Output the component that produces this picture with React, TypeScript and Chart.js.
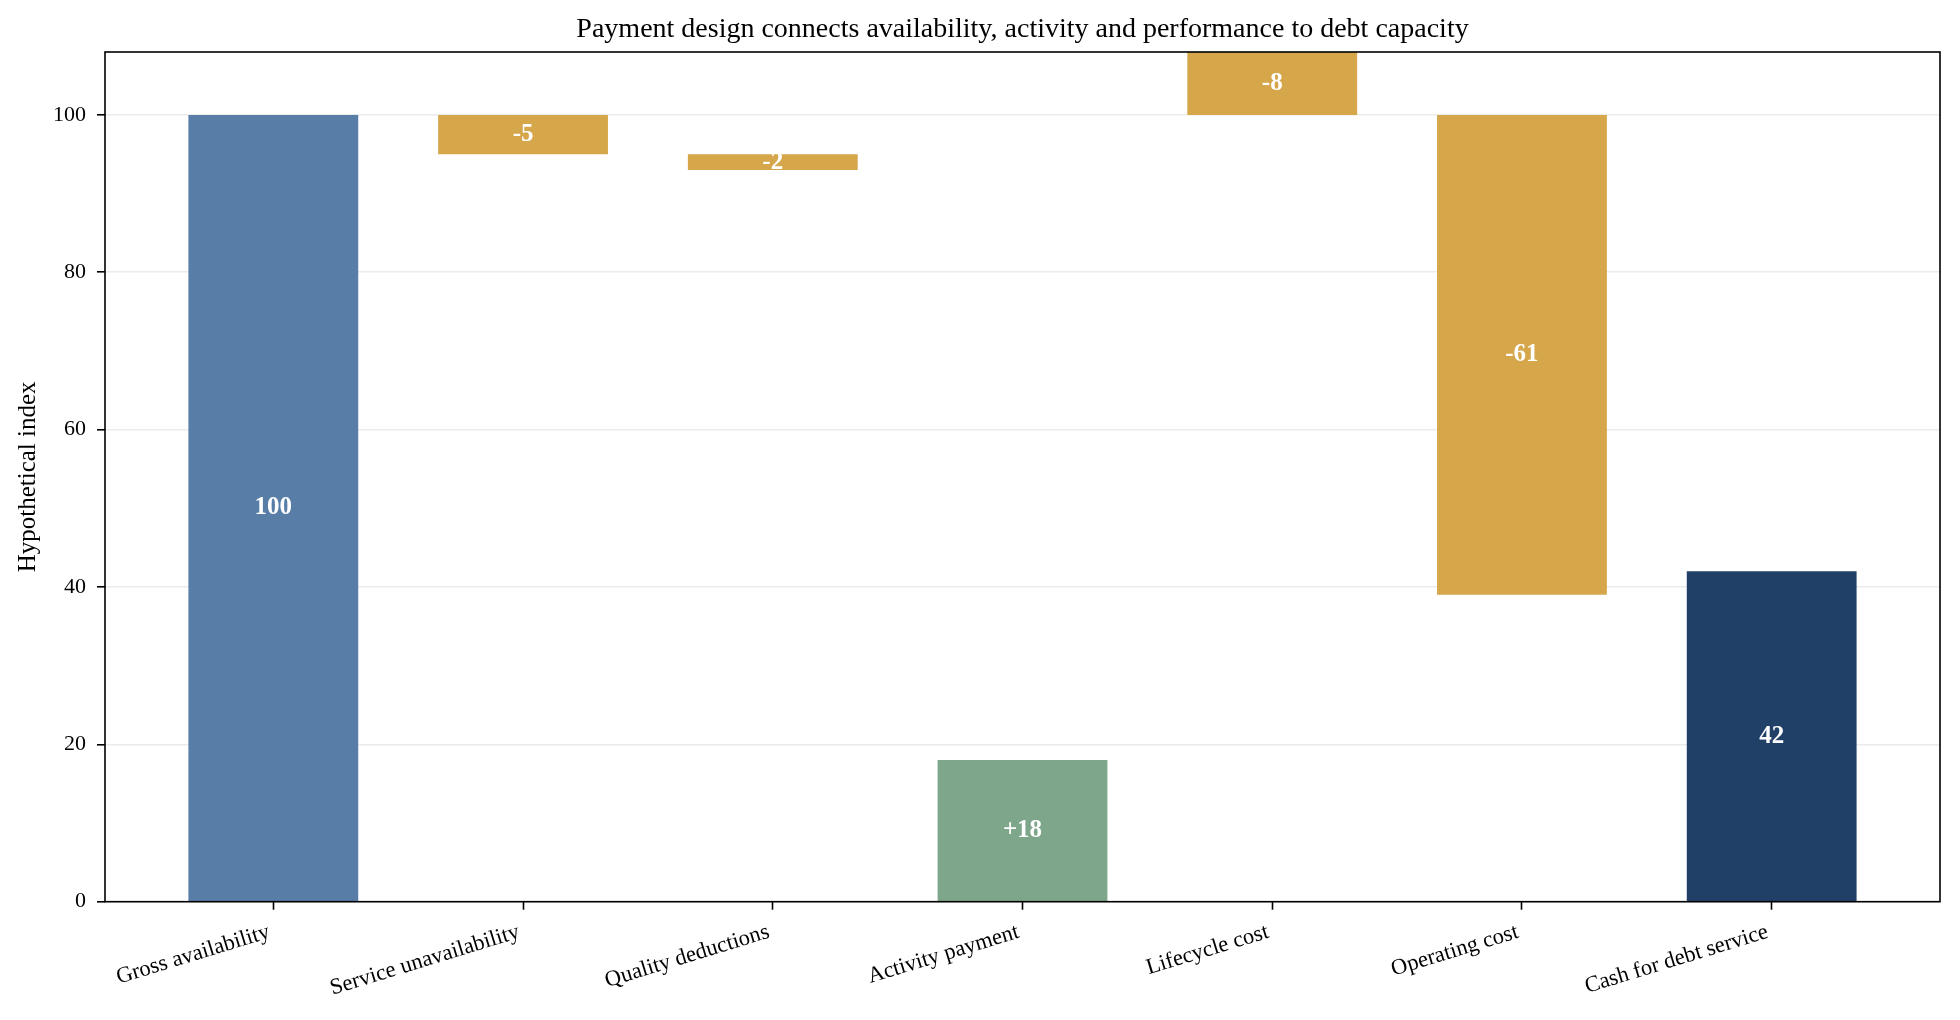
import React, { useEffect, useRef } from "react";
import { Chart, registerables } from "chart.js";

Chart.register(...registerables);

const FONT = '"Liberation Serif", "Times New Roman", serif';

const chartTitle = "Payment design connects availability, activity and performance to debt capacity";
const yAxisTitle = "Hypothetical index";

const categories = [
  "Gross availability",
  "Service unavailability",
  "Quality deductions",
  "Activity payment",
  "Lifecycle cost",
  "Operating cost",
  "Cash for debt service",
];
const barBases = [0, 95, 93, 0, 100, 39, 0];
const barTops = [100, 100, 95, 18, 108, 100, 42];
const barLabels = ["100", "-5", "-2", "+18", "-8", "-61", "42"];
const barColors = ["#587EA8", "#D6A64A", "#D6A64A", "#7EA68A", "#D6A64A", "#D6A64A", "#214068"];

const overlayPlugin = {
  id: "overlay",
  afterDraw(chart: any) {
    const ctx = chart.ctx as CanvasRenderingContext2D;
    const a = chart.chartArea;
    ctx.save();
    // value labels
    const meta = chart.getDatasetMeta(0);
    ctx.fillStyle = "#ffffff";
    ctx.font = `bold 25px ${FONT}`;
    ctx.textAlign = "center";
    ctx.textBaseline = "middle";
    meta.data.forEach((el: any, i: number) => {
      const p = el.getProps(["x", "y", "base"], true);
      ctx.fillText(barLabels[i], p.x, (p.y + p.base) / 2);
    });
    // frame
    ctx.strokeStyle = "#000000";
    ctx.lineWidth = 1.6;
    ctx.strokeRect(a.left, a.top, a.right - a.left, a.bottom - a.top);
    // title
    ctx.fillStyle = "#000000";
    ctx.font = `28px ${FONT}`;
    ctx.textAlign = "center";
    ctx.textBaseline = "alphabetic";
    ctx.fillText(chartTitle, (a.left + a.right) / 2, 37);
    ctx.restore();
  },
};

export default function App() {
  const ref = useRef<HTMLCanvasElement | null>(null);

  useEffect(() => {
    document.body.style.margin = "0";
    if (!ref.current) return;
    const data = categories.map((_, i) => ({ x: i, y: [barBases[i], barTops[i]] }));
    const chart = new Chart(ref.current, {
      type: "bar",
      data: {
        datasets: [
          {
            data: data as any,
            backgroundColor: barColors,
            borderWidth: 0,
            categoryPercentage: 1,
            barPercentage: 0.68,
          },
        ],
      },
      options: {
        animation: false,
        responsive: false,
        devicePixelRatio: 1,
        layout: { padding: { top: 52, right: 20, left: 0, bottom: 0 } },
        plugins: {
          legend: { display: false },
          tooltip: { enabled: false },
          title: { display: false },
        },
        scales: {
          x: {
            type: "linear",
            min: -0.674,
            max: 6.674,
            offset: false,
            border: { display: false },
            grid: {
              offset: false,
              drawOnChartArea: false,
              drawTicks: true,
              tickLength: 8,
              tickColor: "#000000",
              tickWidth: 1.6,
            },
            ticks: {
              stepSize: 1,
              includeBounds: false,
              autoSkip: false,
              minRotation: 17,
              maxRotation: 17,
              padding: 9,
              labelOffset: -4,
              color: "#000000",
              font: { family: FONT, size: 22.5 },
              callback: (v: any) => categories[v as number] ?? "",
            },
            afterFit: (s: any) => {
              s.height = 118.3;
            },
          },
          y: {
            type: "linear",
            min: 0,
            max: 108,
            z: 1,
            border: { display: false },
            grid: {
              color: "rgba(176,176,176,0.25)",
              lineWidth: 1.6,
              drawTicks: true,
              tickLength: 8,
              tickColor: "#000000",
              tickWidth: 1.6,
            },
            ticks: {
              stepSize: 20,
              includeBounds: false,
              padding: 11,
              color: "#000000",
              font: { family: FONT, size: 22 },
            },
            title: {
              display: true,
              text: yAxisTitle,
              color: "#000000",
              font: { family: FONT, size: 25 },
              padding: { top: 13, bottom: 0 },
            },
            afterFit: (s: any) => {
              s.width = 105;
            },
          },
        },
      },
      plugins: [overlayPlugin],
    } as any);
    return () => chart.destroy();
  }, []);

  return (
    <div style={{ width: 1960, height: 1020 }}>
      <canvas ref={ref} width={1960} height={1020} style={{ display: "block", width: 1960, height: 1020 }} />
    </div>
  );
}
